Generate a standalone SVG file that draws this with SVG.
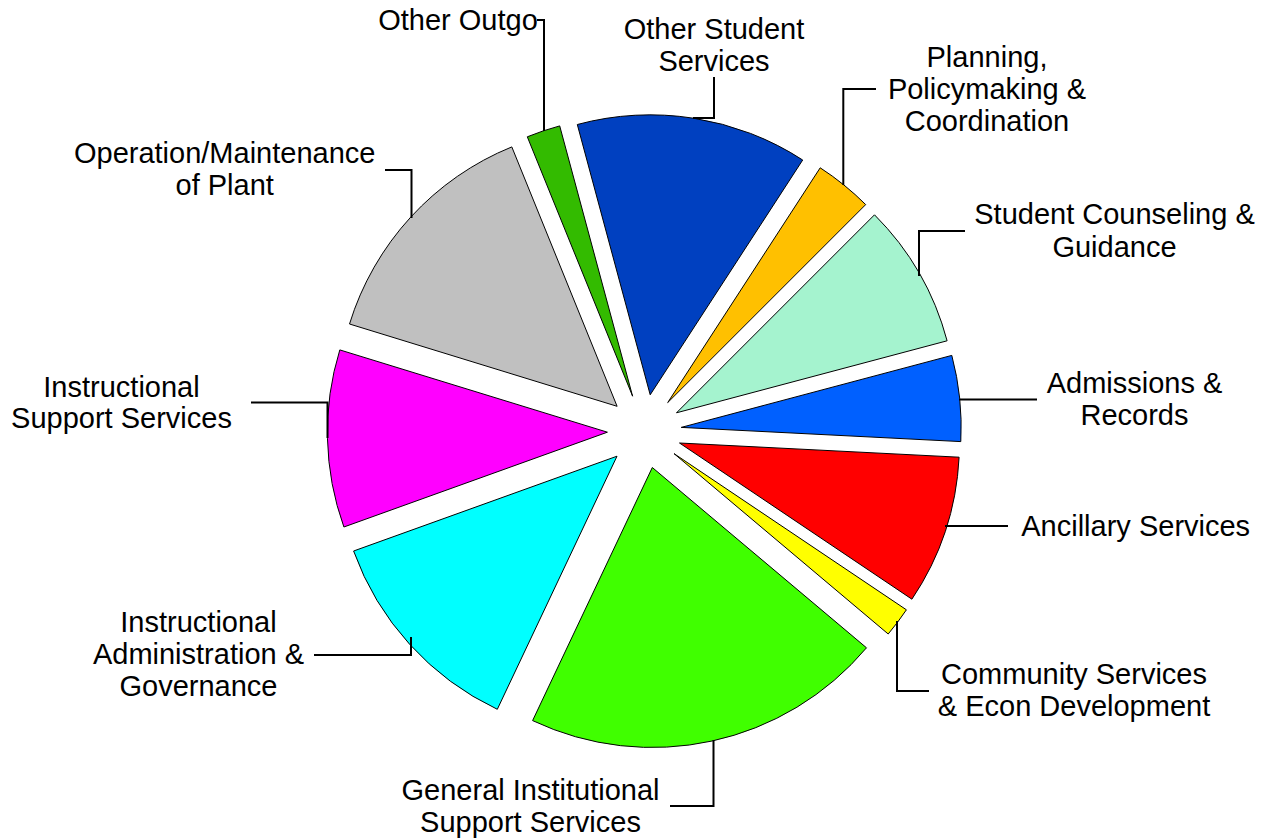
<svg xmlns="http://www.w3.org/2000/svg" width="1265" height="840" viewBox="0 0 1265 840">
<style>
.s{stroke:#000;stroke-width:1;stroke-linejoin:miter}
.l{fill:none;stroke:#000;stroke-width:2}
text{font-family:"Liberation Sans",Arial,sans-serif;font-size:29px;fill:#000;text-anchor:middle}
</style>
<rect width="1265" height="840" fill="#fff"/>
<g id="slices">
<g id="other-outgo"><path class="s" fill="#33BB00" d="M632.6,396.2 L527.3,136.8 A280,280 0 0 1 559.7,125.9 Z"/></g>
<g id="other-student-services"><path class="s" fill="#0040C0" d="M650.2,394.8 L577.3,124.5 A280,280 0 0 1 802.7,160.0 Z"/></g>
<g id="planning"><path class="s" fill="#FFC000" d="M667.7,402.6 L820.2,167.8 A280,280 0 0 1 865.7,204.6 Z"/></g>
<g id="counseling"><path class="s" fill="#A5F3CF" d="M676.5,412.8 L874.5,214.8 A280,280 0 0 1 947.1,340.8 Z"/></g>
<g id="admissions"><path class="s" fill="#0060FF" d="M681.2,427.4 L951.8,355.4 A280,280 0 0 1 960.8,441.6 Z"/></g>
<g id="ancillary"><path class="s" fill="#FF0000" d="M679.5,443.0 L959.1,457.2 A280,280 0 0 1 911.9,599.2 Z"/></g>
<g id="community"><path class="s" fill="#FFFF00" d="M674.0,453.6 L906.4,609.8 A280,280 0 0 1 888.2,634.0 Z"/></g>
<g id="general"><path class="s" fill="#40FF00" d="M652.3,467.5 L866.5,647.8 A280,280 0 0 1 532.6,720.6 Z"/></g>
<g id="instr-admin"><path class="s" fill="#00FFFF" d="M617.0,456.2 L497.3,709.3 A280,280 0 0 1 353.6,551.0 Z"/></g>
<g id="instr-support"><path class="s" fill="#FF00FF" d="M607.4,432.2 L343.9,527.0 A280,280 0 0 1 339.8,349.9 Z"/></g>
<g id="operation"><path class="s" fill="#C0C0C0" d="M617.1,406.3 L349.5,324.0 A280,280 0 0 1 511.8,146.9 Z"/></g>
</g>
<g id="connectors">
<polyline class="l" points="537,20 544,20 544,131"/>
<polyline class="l" points="714,77 714,118 693,118"/>
<polyline class="l" points="876,89 843.3,89 843.3,185"/>
<polyline class="l" points="965,231 919,231 919,276"/>
<polyline class="l" points="959,399.5 1037,399.5"/>
<polyline class="l" points="945,526 1008,526"/>
<polyline class="l" points="897,621 897,691 929,691"/>
<polyline class="l" points="670,806 713.5,806 713.5,740"/>
<polyline class="l" points="314,655 411,655 411,637"/>
<polyline class="l" points="251,402.5 327.5,402.5 327.5,438"/>
<polyline class="l" points="385,170 411.5,170 411.5,218"/>
</g>
<g id="labels">
<text x="458" y="30">Other Outgo</text>
<text x="714" y="38.7">Other Student</text>
<text x="714" y="70.5">Services</text>
<text x="987" y="67">Planning,</text>
<text x="987" y="99">Policymaking &amp;</text>
<text x="987" y="130.5">Coordination</text>
<text x="1114.5" y="224.3">Student Counseling &amp;</text>
<text x="1114.5" y="256.5">Guidance</text>
<text x="1134.5" y="393.3">Admissions &amp;</text>
<text x="1134.5" y="425">Records</text>
<text x="1135.7" y="536">Ancillary Services</text>
<text x="1074" y="684.3">Community Services</text>
<text x="1074" y="715.5">&amp; Econ Development</text>
<text x="530.5" y="800">General Institutional</text>
<text x="530.5" y="831.7">Support Services</text>
<text x="198.5" y="631.7">Instructional</text>
<text x="198.5" y="664">Administration &amp;</text>
<text x="198.5" y="696">Governance</text>
<text x="121.5" y="396.7">Instructional</text>
<text x="121.5" y="428.3">Support Services</text>
<text x="224.7" y="163.3">Operation/Maintenance</text>
<text x="224.7" y="195">of Plant</text>
</g>
</svg>
